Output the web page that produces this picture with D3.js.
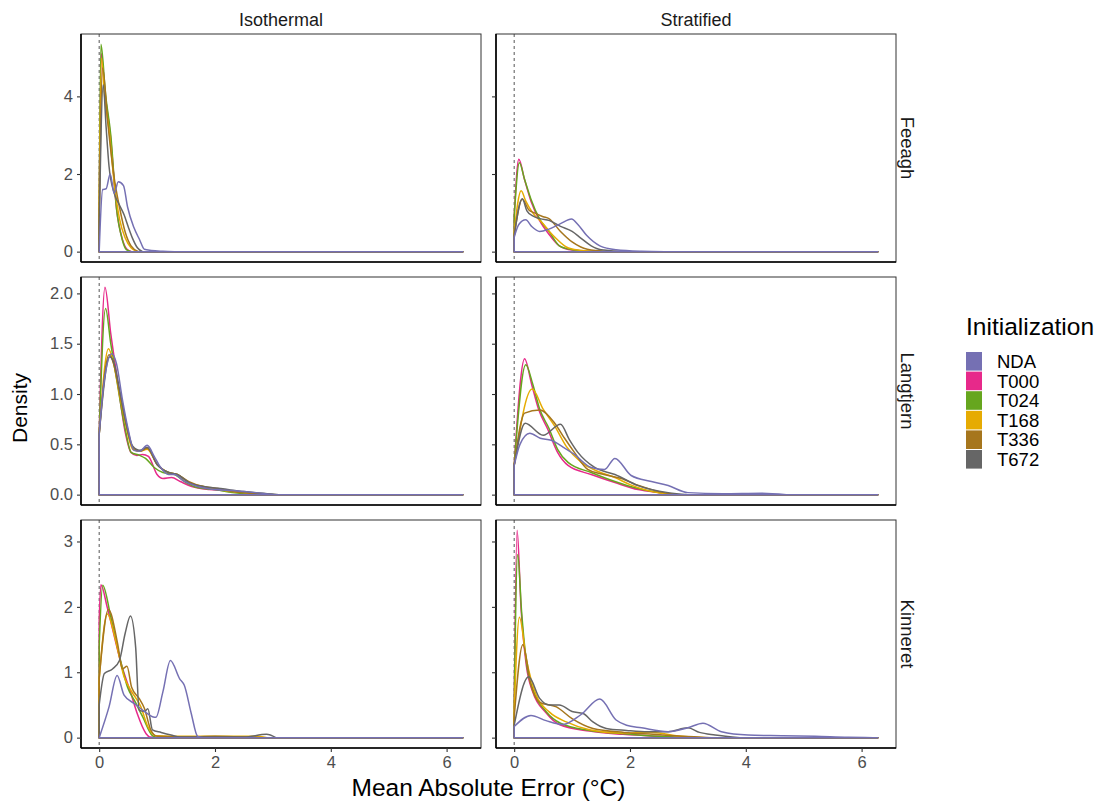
<!DOCTYPE html>
<html>
<head>
<meta charset="utf-8">
<script src="https://cdn.jsdelivr.net/npm/d3@7"></script>
<style>
  body { margin: 0; background: #fff; }
  text { font-family: "Liberation Sans", Arial, sans-serif; }
</style>
</head>
<body>
<div id="chart"></div>
<script>
// series + facets
var series = ["NDA", "T000", "T024", "T168", "T336", "T672"];
var colors = ["#7570B3", "#E7298A", "#66A61E", "#E6AB02", "#A6761D", "#666666"];
var lakes = ["Feeagh", "Langtjern", "Kinneret"];
var regimes = ["Isothermal", "Stratified"];
var xTicks = [0, 2, 4, 6];
var yTicks = [[0, 2, 4], [0, 0.5, 1, 1.5, 2], [0, 1, 2, 3]];
var xMax = 6.28;

// density curves, [MAE, density]
var feeaghIso = {
  NDA:  [[0,0],[0.06,1.6],[0.12,1.62],[0.19,2.0],[0.26,1.5],[0.33,1.8],[0.42,1.7],[0.49,1.15],[0.6,0.62],[0.7,0.3],[0.78,0.06],[0.9,0.03],[1.1,0.01],[1.3,0]],
  T000: [[0,1.0],[0.035,5.1],[0.1,4.1],[0.2,2.9],[0.3,1.1],[0.4,0.32],[0.48,0.06],[0.56,0]],
  T024: [[0,1.2],[0.03,5.34],[0.11,4.05],[0.2,3.0],[0.3,1.1],[0.4,0.3],[0.47,0.05],[0.55,0]],
  T168: [[0,1.0],[0.04,4.98],[0.1,3.9],[0.17,3.15],[0.25,1.9],[0.35,0.85],[0.45,0.35],[0.55,0.1],[0.65,0]],
  T336: [[0,0.8],[0.06,4.73],[0.15,3.3],[0.25,2.0],[0.35,1.15],[0.45,0.5],[0.55,0.15],[0.68,0]],
  T672: [[0,0.6],[0.07,4.3],[0.12,3.2],[0.17,2.2],[0.26,1.5],[0.35,1.2],[0.43,0.95],[0.5,0.65],[0.58,0.33],[0.66,0.1],[0.75,0]]
};
var feeaghStrat = {
  NDA:  [[0,0.37],[0.08,0.7],[0.2,0.82],[0.3,0.65],[0.44,0.52],[0.6,0.58],[0.8,0.72],[0.99,0.84],[1.1,0.7],[1.25,0.42],[1.48,0.15],[1.76,0.05],[2.2,0.01],[2.6,0]],
  T000: [[0,0.9],[0.08,2.38],[0.18,1.85],[0.29,1.3],[0.44,0.8],[0.6,0.45],[0.78,0.15],[1.0,0.04],[1.4,0]],
  T024: [[0,0.9],[0.09,2.29],[0.18,1.86],[0.29,1.35],[0.44,0.84],[0.61,0.5],[0.78,0.15],[1.0,0.05],[1.4,0]],
  T168: [[0,0.5],[0.12,1.57],[0.2,1.3],[0.32,1.0],[0.5,0.72],[0.62,0.5],[0.73,0.33],[0.9,0.12],[1.1,0.04],[1.5,0]],
  T336: [[0,0.4],[0.14,1.35],[0.25,1.08],[0.35,1.0],[0.5,0.9],[0.6,0.85],[0.8,0.52],[1.0,0.25],[1.15,0.12],[1.4,0.03],[1.8,0]],
  T672: [[0,0.4],[0.14,1.36],[0.22,1.05],[0.32,0.92],[0.45,0.85],[0.61,0.8],[0.8,0.65],[1.0,0.52],[1.15,0.35],[1.33,0.15],[1.5,0.05],[2.0,0]]
};
var langtjernIso = {
  NDA:  [[0,0.6],[0.08,1.1],[0.22,1.4],[0.3,1.3],[0.4,0.95],[0.5,0.65],[0.6,0.44],[0.7,0.43],[0.83,0.49],[0.95,0.38],[1.05,0.28],[1.2,0.2],[1.3,0.2],[1.45,0.14],[1.7,0.08],[2.0,0.05],[2.3,0.04],[2.7,0.02],[3.0,0]],
  T000: [[0,0.6],[0.1,2.06],[0.2,1.6],[0.3,1.2],[0.45,0.62],[0.55,0.42],[0.65,0.39],[0.75,0.4],[0.85,0.38],[1.0,0.2],[1.1,0.16],[1.25,0.17],[1.4,0.13],[1.6,0.08],[1.9,0.05],[2.2,0.04],[2.5,0.02],[2.8,0]],
  T024: [[0,0.6],[0.11,1.85],[0.2,1.5],[0.3,1.15],[0.45,0.65],[0.55,0.42],[0.7,0.39],[0.8,0.36],[0.95,0.27],[1.1,0.22],[1.3,0.2],[1.5,0.12],[1.7,0.07],[2.0,0.05],[2.3,0.02],[2.8,0]],
  T168: [[0,0.6],[0.16,1.45],[0.25,1.3],[0.35,1.0],[0.45,0.72],[0.58,0.45],[0.7,0.43],[0.83,0.45],[1.0,0.3],[1.2,0.22],[1.35,0.2],[1.55,0.12],[1.8,0.08],[2.0,0.06],[2.3,0.03],[2.8,0.01],[3.0,0]],
  T336: [[0,0.6],[0.17,1.39],[0.25,1.3],[0.35,1.02],[0.45,0.73],[0.58,0.47],[0.7,0.43],[0.83,0.46],[1.0,0.3],[1.2,0.22],[1.35,0.2],[1.55,0.13],[1.8,0.08],[2.05,0.06],[2.3,0.03],[2.7,0.01],[3.0,0]],
  T672: [[0,0.6],[0.18,1.37],[0.27,1.28],[0.35,1.05],[0.45,0.76],[0.58,0.48],[0.7,0.44],[0.83,0.47],[1.0,0.3],[1.2,0.22],[1.35,0.2],[1.55,0.12],[1.8,0.08],[2.1,0.06],[2.5,0.03],[2.9,0.01],[3.1,0]]
};
var langtjernStrat = {
  NDA:  [[0,0.29],[0.1,0.5],[0.27,0.61],[0.45,0.56],[0.64,0.54],[0.85,0.47],[1.04,0.4],[1.33,0.27],[1.56,0.25],[1.74,0.36],[2.02,0.19],[2.37,0.13],[2.66,0.09],[3.0,0.02],[3.6,0.01],[4.27,0.015],[4.7,0]],
  T000: [[0,0.29],[0.18,1.35],[0.3,1.1],[0.42,0.85],[0.58,0.65],[0.75,0.42],[0.93,0.29],[1.33,0.2],[1.74,0.12],[2.14,0.05],[2.49,0.02],[2.8,0]],
  T024: [[0,0.29],[0.2,1.29],[0.32,1.1],[0.44,0.85],[0.6,0.66],[0.75,0.45],[0.93,0.32],[1.33,0.22],[1.74,0.13],[2.14,0.06],[2.5,0.02],[2.8,0]],
  T168: [[0,0.29],[0.31,1.05],[0.5,0.85],[0.7,0.68],[0.9,0.48],[1.16,0.32],[1.45,0.23],[1.74,0.17],[2.0,0.1],[2.31,0.04],[2.7,0]],
  T336: [[0,0.29],[0.18,0.81],[0.44,0.84],[0.7,0.71],[0.87,0.56],[1.04,0.42],[1.27,0.25],[1.55,0.2],[1.85,0.16],[2.15,0.09],[2.43,0.04],[2.8,0]],
  T672: [[0,0.29],[0.19,0.71],[0.5,0.59],[0.8,0.7],[0.95,0.55],[1.1,0.42],[1.39,0.27],[1.74,0.2],[2.14,0.09],[2.66,0.02],[3.0,0]]
};
var kinneretIso = {
  NDA:  [[0,0],[0.17,0.47],[0.31,0.95],[0.43,0.65],[0.61,0.52],[0.78,0.4],[0.92,0.32],[0.98,0.31],[1.1,0.7],[1.23,1.18],[1.39,0.9],[1.47,0.8],[1.59,0.37],[1.7,0.02],[1.8,0]],
  T000: [[0,1.8],[0.03,2.34],[0.14,1.99],[0.38,1.13],[0.55,0.67],[0.66,0.36],[0.81,0.06],[0.87,0.01],[1.0,0]],
  T024: [[0,1.4],[0.06,2.33],[0.2,1.85],[0.35,1.25],[0.49,0.77],[0.62,0.55],[0.75,0.32],[0.92,0.03],[1.0,0]],
  T168: [[0,0.9],[0.14,1.89],[0.28,1.5],[0.43,0.93],[0.55,0.72],[0.72,0.47],[0.84,0.17],[0.98,0.03],[1.5,0.02],[2.0,0.02],[2.7,0.02],[2.9,0]],
  T336: [[0,0.9],[0.16,1.96],[0.32,1.43],[0.4,1.05],[0.48,1.09],[0.56,0.77],[0.69,0.6],[0.78,0.45],[0.89,0.12],[1.0,0.02],[1.5,0.01],[2.0,0.02],[2.5,0.01],[2.8,0]],
  T672: [[0,0.5],[0.09,0.98],[0.23,1.05],[0.35,1.18],[0.45,1.6],[0.54,1.86],[0.63,1.38],[0.69,0.42],[0.78,0.4],[0.84,0.44],[0.92,0.12],[1.07,0.08],[1.24,0.04],[1.4,0.01],[2.5,0.01],[2.89,0.05],[3.05,0]]
};
var kinneretStrat = {
  NDA:  [[0,0.17],[0.29,0.34],[0.55,0.26],[0.84,0.2],[1.15,0.35],[1.48,0.59],[1.76,0.27],[1.94,0.19],[2.2,0.15],[2.66,0.09],[3.0,0.15],[3.26,0.22],[3.58,0.09],[4.04,0.04],[4.62,0.03],[5.2,0.02],[5.77,0.005],[6.2,0]],
  T000: [[0,0.5],[0.05,3.17],[0.12,1.96],[0.21,1.1],[0.32,0.7],[0.55,0.38],[0.78,0.2],[1.3,0.1],[1.88,0.05],[2.46,0.02],[3.0,0]],
  T024: [[0,0.5],[0.06,2.8],[0.13,1.9],[0.22,1.1],[0.33,0.72],[0.55,0.4],[0.8,0.22],[1.3,0.11],[1.9,0.06],[2.5,0.02],[3.1,0]],
  T168: [[0,0.4],[0.09,1.84],[0.21,1.2],[0.38,0.65],[0.61,0.39],[0.9,0.24],[1.3,0.12],[1.8,0.07],[2.4,0.08],[2.8,0.03],[3.3,0]],
  T336: [[0,0.3],[0.15,1.42],[0.29,0.8],[0.44,0.54],[0.73,0.47],[1.0,0.29],[1.36,0.14],[1.9,0.08],[2.4,0.05],[2.9,0.02],[3.4,0]],
  T672: [[0,0.19],[0.25,0.93],[0.44,0.6],[0.61,0.5],[0.78,0.5],[1.0,0.4],[1.19,0.37],[1.36,0.24],[1.59,0.14],[1.94,0.11],[2.31,0.09],[2.66,0.09],[3.0,0.15],[3.2,0.08],[3.47,0.04],[3.9,0]]
};
var panels = [[feeaghIso, feeaghStrat], [langtjernIso, langtjernStrat], [kinneretIso, kinneretStrat]];

var width = 1109, height = 803;
var panelLeft = [81, 496], panelW = 400;
var panelTop = [34, 277, 520], panelH = 228;

var svg = d3.select("#chart").append("svg")
    .attr("width", width)
    .attr("height", height);

var x0 = d3.scaleLinear().domain([-0.05 * xMax, 1.05 * xMax]).range([0, panelW]);

function curvePath(pts, x, y)
{
    var line = d3.line()
        .x(function(d){ return x(d[0]); })
        .y(function(d){ return y(d[1]); })
        .curve(d3.curveMonotoneX);
    var s = line(pts);
    // vertical edge at 0, upper curve, then baseline back
    return "M" + x(0) + "," + y(0) + "L" + s.slice(1) + "L" + x(xMax) + "," + y(0) + "Z";
}

// T-runs in legend order, NDA layered over them
var drawOrder = series.slice(1).concat(series[0]);

for (var r = 0; r < lakes.length; r++)
{
    // free y per row
    var rowMax = d3.max(panels[r], function(p){
        return d3.max(series, function(s){ return d3.max(p[s], function(d){ return d[1]; }); });
    });
    var y = d3.scaleLinear().domain([-0.05 * rowMax, 1.05 * rowMax]).range([panelH, 0]);
    var fmt = yTicks[r].some(function(t){ return t % 1 !== 0; }) ? d3.format(".1f") : d3.format("d");

    for (var c = 0; c < regimes.length; c++)
    {
        var g = svg.append("g")
            .attr("transform", "translate(" + panelLeft[c] + "," + panelTop[r] + ")");

        g.append("rect")
            .attr("width", panelW).attr("height", panelH)
            .attr("fill", "#fff");

        g.append("line")
            .attr("x1", x0(0)).attr("x2", x0(0))
            .attr("y1", 0).attr("y2", panelH)
            .attr("stroke", "#555").attr("stroke-width", 1)
            .attr("stroke-dasharray", "3,3");

        drawOrder.forEach(function(s){
            g.append("path")
                .attr("d", curvePath(panels[r][c][s], x0, y))
                .attr("fill", "none")
                .attr("stroke", colors[series.indexOf(s)])
                .attr("stroke-width", 1.5)
                .attr("stroke-linejoin", "round");
        });

        g.append("rect")
            .attr("width", panelW).attr("height", panelH)
            .attr("fill", "none")
            .attr("stroke", "#333").attr("stroke-width", 1);

        // y axis
        var ya = g.append("g").call(d3.axisLeft(y).tickValues(yTicks[r]).tickSize(4).tickFormat(c === 0 ? fmt : ""));
        ya.select(".domain").attr("stroke", "#000").attr("stroke-width", 1.6).attr("d", "M0,0V" + panelH);
        ya.selectAll(".tick line").attr("stroke", "#333").attr("stroke-width", 1.1);
        ya.selectAll(".tick text").attr("fill", "#4d4d4d").style("font-size", "16.5px").attr("x", -8);

        // x axis
        var xa = g.append("g").attr("transform", "translate(0," + panelH + ")")
            .call(d3.axisBottom(x0).tickValues(xTicks).tickSize(r === 2 ? 4 : 0).tickFormat(r === 2 ? d3.format("d") : ""));
        xa.select(".domain").attr("stroke", "#000").attr("stroke-width", 1.6).attr("d", "M0,0H" + panelW);
        xa.selectAll(".tick line").attr("stroke", "#333").attr("stroke-width", 1.1);
        xa.selectAll(".tick text").attr("fill", "#4d4d4d").style("font-size", "16.5px").attr("y", 8);

        if (r === 0)
        {
            svg.append("text")
                .attr("x", panelLeft[c] + panelW / 2).attr("y", 26)
                .attr("text-anchor", "middle")
                .attr("fill", "#1a1a1a")
                .style("font-size", "18px")
                .text(regimes[c]);
        }
    }

    svg.append("text")
        .attr("transform", "translate(901," + (panelTop[r] + panelH / 2) + ") rotate(90)")
        .attr("text-anchor", "middle")
        .attr("fill", "#1a1a1a")
        .style("font-size", "18.5px")
        .text(lakes[r]);
}

// axis titles
svg.append("text")
    .attr("x", (panelLeft[0] + panelLeft[1] + panelW) / 2).attr("y", 796)
    .attr("text-anchor", "middle")
    .style("font-size", "24.5px")
    .text("Mean Absolute Error (°C)");

svg.append("text")
    .attr("transform", "translate(27,408) rotate(-90)")
    .attr("text-anchor", "middle")
    .style("font-size", "21px")
    .text("Density");

// legend
var legend = svg.append("g").attr("transform", "translate(966,335)");
legend.append("text")
    .attr("x", 0).attr("y", 0)
    .style("font-size", "24.5px")
    .text("Initialization");

series.forEach(function(s, i){
    legend.append("rect")
        .attr("x", 0).attr("y", 17 + i * 19.6)
        .attr("width", 16).attr("height", 18.6)
        .attr("fill", colors[i]);
    legend.append("text")
        .attr("x", 31).attr("y", 17 + i * 19.6 + 9.3)
        .attr("dy", "0.36em")
        .style("font-size", "18.5px")
        .text(s);
});
</script>
</body>
</html>
